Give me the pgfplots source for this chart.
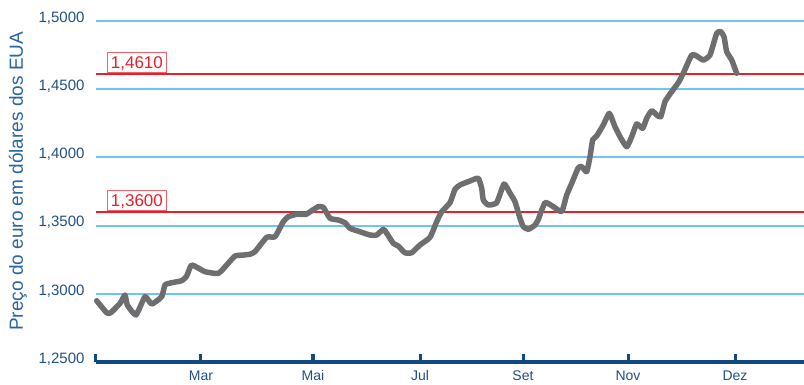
\documentclass[border=0pt]{standalone}
\usepackage{pgfplots}
\pgfplotsset{compat=1.18}
\usepackage{pgfplotstable}
\usepackage{fontspec}
\setmainfont{Liberation Sans}
\definecolor{gridblue}{RGB}{110,198,240}
\definecolor{axisblue}{RGB}{16,74,132}
\definecolor{tickblue}{RGB}{32,80,130}
\definecolor{labelblue}{RGB}{40,100,160}
\definecolor{refred}{RGB}{232,30,40}
\definecolor{boxred}{RGB}{240,100,105}
\definecolor{linegray}{RGB}{110,110,113}

\pgfplotstableread{
x y
96.7 1.2949
106.7 1.2861
110.7 1.2861
120.0 1.2930
125.0 1.2991
127.3 1.2918
136.0 1.2845
145.0 1.2979
151.7 1.2925
161.7 1.2979
165.0 1.3065
171.7 1.3081
181.7 1.3096
186.7 1.3130
191.7 1.3211
205.0 1.3162
218.3 1.3150
226.7 1.3211
235.0 1.3277
243.3 1.3284
250.0 1.3290
255.0 1.3309
266.7 1.3414
275.0 1.3419
283.3 1.3529
288.3 1.3565
296.7 1.3583
306.0 1.3583
311.7 1.3609
318.3 1.3639
323.3 1.3634
330.0 1.3554
338.3 1.3541
345.0 1.3521
350.0 1.3480
360.0 1.3455
370.0 1.3431
376.7 1.3431
383.3 1.3473
386.7 1.3444
393.3 1.3370
398.3 1.3350
405.0 1.3301
411.7 1.3301
420.0 1.3358
430.0 1.3414
436.7 1.3529
441.7 1.3602
450.0 1.3668
455.0 1.3766
460.0 1.3798
470.0 1.3827
478.3 1.3847
481.7 1.3773
483.3 1.3688
488.3 1.3651
496.7 1.3668
504.0 1.3805
510.0 1.3737
515.0 1.3675
520.0 1.3554
523.3 1.3492
528.3 1.3473
535.0 1.3504
538.3 1.3546
545.0 1.3668
553.3 1.3639
561.7 1.3603
566.7 1.3724
571.7 1.3810
578.3 1.3924
581.7 1.3932
586.7 1.3895
590.0 1.4005
592.7 1.4128
596.7 1.4157
603.3 1.4238
609.3 1.4323
615.0 1.4225
620.0 1.4152
626.7 1.4078
631.7 1.4152
636.7 1.4245
642.7 1.4213
646.7 1.4287
651.7 1.4342
656.7 1.4311
660.7 1.4298
665.0 1.4408
670.0 1.4465
678.3 1.4548
683.3 1.4617
691.7 1.4751
696.7 1.4743
703.3 1.4714
710.0 1.4751
716.7 1.4910
720.7 1.4922
724.0 1.4885
726.7 1.4775
731.7 1.4714
736.7 1.4617
}\eurusd

\begin{document}
\begin{tikzpicture}
\begin{axis}[
  scale only axis, width=708pt, height=341pt,
  xmin=96, xmax=804, ymin=1.25, ymax=1.5,
  axis x line=bottom, axis y line=left,
  x axis line style={draw=axisblue, line width=3.5pt, -},
  y axis line style={draw=none},
  xtick={96,201,313,420,523,628,735},
  xticklabels={,Mar,Mai,Jul,Set,Nov,Dez},
  xtick align=inside,
  major tick length=8pt,
  xtick style={draw=axisblue, line width=3pt},
  ytick={1.25,1.30,1.35,1.40,1.45,1.50},
  ytick style={draw=none},
  /pgf/number format/.cd, fixed, fixed zerofill, precision=4, use comma, assume math mode=true,
  /pgfplots/.cd,
  yticklabel style={font=\fontsize{15}{18}\selectfont, text=tickblue, anchor=east, xshift=-4pt, yshift=3pt},
  xticklabel style={font=\fontsize{14}{17}\selectfont, text=tickblue, yshift=-5pt},
  ylabel={Preço do euro em dólares dos EUA},
  ylabel style={at={(axis description cs:-0.1102,0.53)}, anchor=center, rotate=0, font=\fontsize{19}{22}\selectfont, text=labelblue},
  clip=false,
]
\addplot[gridblue, line width=2pt] coordinates {(96,1.30) (804,1.30)};
\addplot[gridblue, line width=2pt] coordinates {(96,1.35) (804,1.35)};
\addplot[gridblue, line width=2pt] coordinates {(96,1.40) (804,1.40)};
\addplot[gridblue, line width=2pt] coordinates {(96,1.45) (804,1.45)};
\addplot[gridblue, line width=2pt] coordinates {(96,1.50) (804,1.50)};
\addplot[refred, line width=2.2pt] coordinates {(96,1.4610) (804,1.4610)};
\addplot[refred, line width=2.2pt] coordinates {(96,1.3600) (804,1.3600)};
\node[draw=boxred, line width=0.8pt, fill=white, text=refred, font=\fontsize{17}{20}\selectfont, inner xsep=3.5pt, inner ysep=4pt, text height=12.2pt, text depth=0pt, anchor=south west] at (axis cs:107,1.4610) [yshift=1pt] {1,4610};
\node[draw=boxred, line width=0.8pt, fill=white, text=refred, font=\fontsize{17}{20}\selectfont, inner xsep=3.5pt, inner ysep=4pt, text height=12.2pt, text depth=0pt, anchor=south west] at (axis cs:107,1.3600) [yshift=1pt] {1,3600};
\addplot[linegray, line width=5.5pt, line join=round, line cap=round, smooth, tension=0.3] table[x=x,y=y] {\eurusd};
\end{axis}
\pgfresetboundingbox
\path ([shift={(-96pt,-23pt)}]current axis.south west) rectangle ([shift={(0pt,21pt)}]current axis.north east);
\end{tikzpicture}
\end{document}
